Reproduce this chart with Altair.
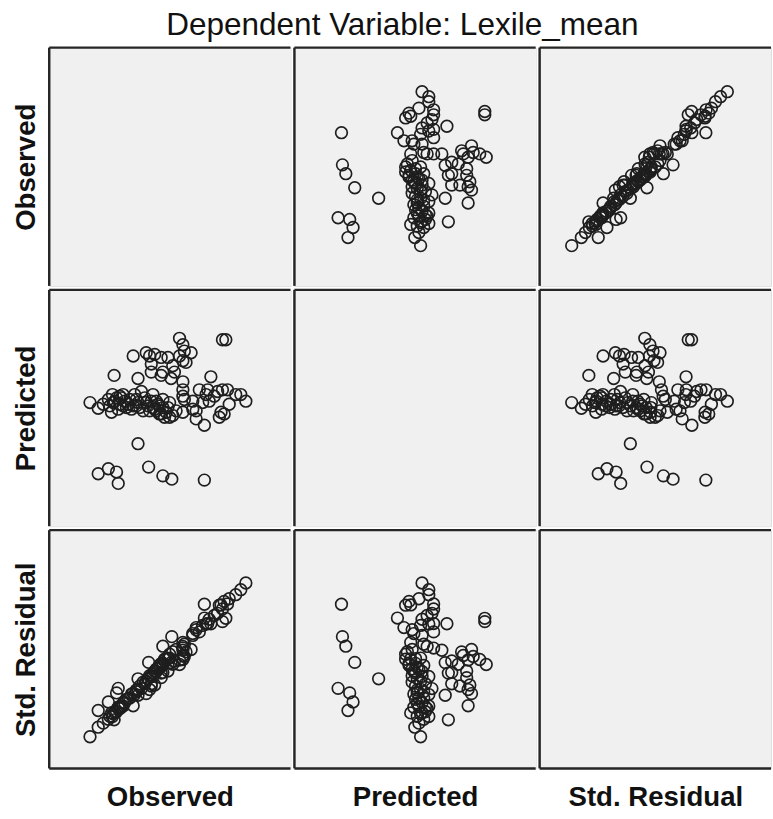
import altair as alt
import pandas as pd

observed = [20.3, 24.5, 27.9, 28.6, 36.8, 41.2, 47.1, 50.8, 64.3, 16.9,
            20.3, 26.9, 34.8, 54.0, 55.4, 71.8, 73.2, 40.2, 43.7, 46.4,
            49.2, 56.0, 58.8, 55.4, 42.3, 51.2, 47.1, 42.3, 50.5, 36.8,
            55.4, 67.0, 24.5, 25.8, 27.9, 29.3, 30.6, 32.0, 33.4, 35.4,
            36.8, 38.2, 39.6, 40.9, 42.3, 43.7, 45.1, 46.4, 47.8, 49.2,
            51.2, 55.4, 56.0, 55.4, 59.5, 60.9, 64.3, 62.2, 65.0, 66.3,
            69.8, 71.8, 73.9, 77.3, 79.4, 81.5, 71.2, 70.5, 59.5, 63.6,
            26.5, 28.6, 31.3, 34.8, 38.9, 43.0, 47.1, 49.9, 25.1, 29.9,
            32.7, 37.5, 44.4, 48.5, 45.7, 41.6, 54.0, 68.4, 55.4, 60.9,
            27.2, 30.6, 36.1, 40.2, 45.7, 43.0, 22.4, 26.2, 29.3, 34.1,
            36.1, 41.6, 44.4, 47.1, 49.9, 52.6, 46.4, 51.9, 56.7, 65.7,
            74.6, 72.5]

predicted = [22.2, 24.3, 22.9, 18.1, 34.9, 25.0, 21.3, 19.9, 19.5, 52.3,
             49.9, 63.8, 72.0, 79.5, 76.8, 78.9, 78.9, 73.4, 72.7, 71.4,
             71.4, 74.1, 73.4, 70.0, 68.6, 67.9, 65.2, 65.2, 62.5, 62.5,
             61.1, 63.2, 53.6, 48.2, 54.3, 51.6, 55.7, 50.2, 53.6, 55.7,
             52.3, 57.0, 54.3, 50.9, 52.9, 49.5, 51.6, 47.5, 46.1, 50.2,
             46.8, 57.7, 53.6, 48.2, 49.5, 45.4, 42.7, 57.7, 55.7, 52.9,
             57.0, 57.7, 57.7, 55.7, 55.7, 52.9, 48.2, 46.1, 52.9, 52.3,
             52.3, 49.5, 52.9, 50.9, 48.8, 55.7, 53.6, 52.3, 50.9, 54.3,
             51.6, 50.2, 48.8, 48.2, 50.9, 72.0, 72.0, 55.0, 55.0, 48.8,
             52.9, 50.9, 53.6, 52.3, 47.5, 50.2, 51.6, 55.7, 55.0, 49.5,
             50.9, 48.8, 52.9, 50.2, 46.1, 48.8, 63.8, 65.2, 69.3, 57.7,
             51.6, 47.5]

std_residual = [24.3, 27.9, 31.7, 33.6, 37.6, 44.5, 51.3, 55.3, 68.9, 13.3,
                17.3, 20.4, 26.3, 43.6, 45.7, 61.6, 63.0, 31.4, 35.0, 38.1,
                40.9, 47.0, 49.9, 47.4, 34.6, 43.7, 40.3, 35.5, 44.4, 30.7,
                49.6, 60.7, 20.6, 23.3, 23.8, 25.9, 26.2, 29.0, 29.5, 31.0,
                33.2, 33.5, 35.5, 37.7, 38.6, 40.8, 41.7, 44.0, 45.8, 46.1,
                49.0, 50.5, 52.1, 52.9, 56.6, 59.1, 63.1, 57.3, 60.6, 62.6,
                65.1, 66.9, 69.0, 72.9, 75.0, 77.8, 68.6, 68.5, 55.8, 60.0,
                22.9, 25.7, 27.6, 31.6, 36.2, 38.6, 43.2, 46.3, 21.9, 25.8,
                29.3, 34.5, 41.7, 46.0, 42.5, 33.1, 45.5, 64.2, 51.2, 58.2,
                23.5, 27.4, 32.2, 36.6, 43.3, 40.0, 19.0, 21.8, 25.1, 31.2,
                32.9, 38.9, 40.7, 44.1, 47.9, 49.9, 40.0, 45.1, 48.9, 60.8,
                71.2, 70.1]

variables = ["Observed", "Predicted", "Std. Residual"]
fields = ["obs", "pred", "resid"]

df = pd.DataFrame({"obs": observed, "pred": predicted, "resid": std_residual})
border_df = pd.DataFrame({"k": [0]})

widths = [245, 245, 235]
heights = [242, 240, 242]

LABEL_FONT = "Liberation Sans, Arial"
BORDER = "#262626"
BW = 2.5


def axis_for(title, show, pad):
    if not show:
        return None
    return alt.Axis(title=title, labels=False, ticks=False, domain=False, grid=False,
                    titleFont=LABEL_FONT, titleFontSize=28, titleFontWeight="bold",
                    titleColor="#111111", titlePadding=pad, minExtent=0)


rows = []
for r in range(3):
    panels = []
    for c in range(3):
        w, h = widths[c], heights[r]
        bg = alt.Chart(border_df).mark_rect(color="#f0f0f0").encode(
            x=alt.value(0), x2=alt.value(w), y=alt.value(0), y2=alt.value(h))
        pts = alt.Chart(df).mark_point(
            shape="circle", filled=False, size=140, strokeWidth=1.7,
            color="#1e1e1e", opacity=0 if r == c else 1,
        ).encode(
            x=alt.X(f"{fields[c]}:Q", scale=alt.Scale(domain=[0, 100 * w / 245], nice=False, zero=False),
                    axis=axis_for(variables[c], r == 2, 16)),
            y=alt.Y(f"{fields[r]}:Q", scale=alt.Scale(domain=[0, 100], nice=False, zero=False),
                    axis=axis_for(variables[r], c == 0, 9)),
        )
        left = alt.Chart(border_df).mark_rule(color=BORDER, strokeWidth=BW).encode(
            x=alt.value(0), y=alt.value(0), y2=alt.value(h))
        top = alt.Chart(border_df).mark_rule(color=BORDER, strokeWidth=BW).encode(
            x=alt.value(0), x2=alt.value(w), y=alt.value(0))
        layers = [bg, pts, left, top]
        if r == 2:
            bottom = alt.Chart(border_df).mark_rule(color=BORDER, strokeWidth=BW).encode(
                x=alt.value(0), x2=alt.value(w), y=alt.value(h))
            layers.append(bottom)
        panels.append(alt.layer(*layers).properties(width=w, height=h))
    rows.append(alt.hconcat(*panels, spacing=0))

chart = alt.vconcat(*rows, spacing=0).properties(
    title=alt.TitleParams("Dependent Variable: Lexile_mean", fontSize=32,
                          font="Liberation Sans, Arial", fontWeight="normal",
                          anchor="middle", offset=4, dx=10, color="#111111"),
    padding={"left": 12, "top": 3, "right": 0, "bottom": 0},
).configure_view(stroke=None).configure(background="white")

chart.save("out.html", embed_options={"renderer": "svg", "actions": False})
